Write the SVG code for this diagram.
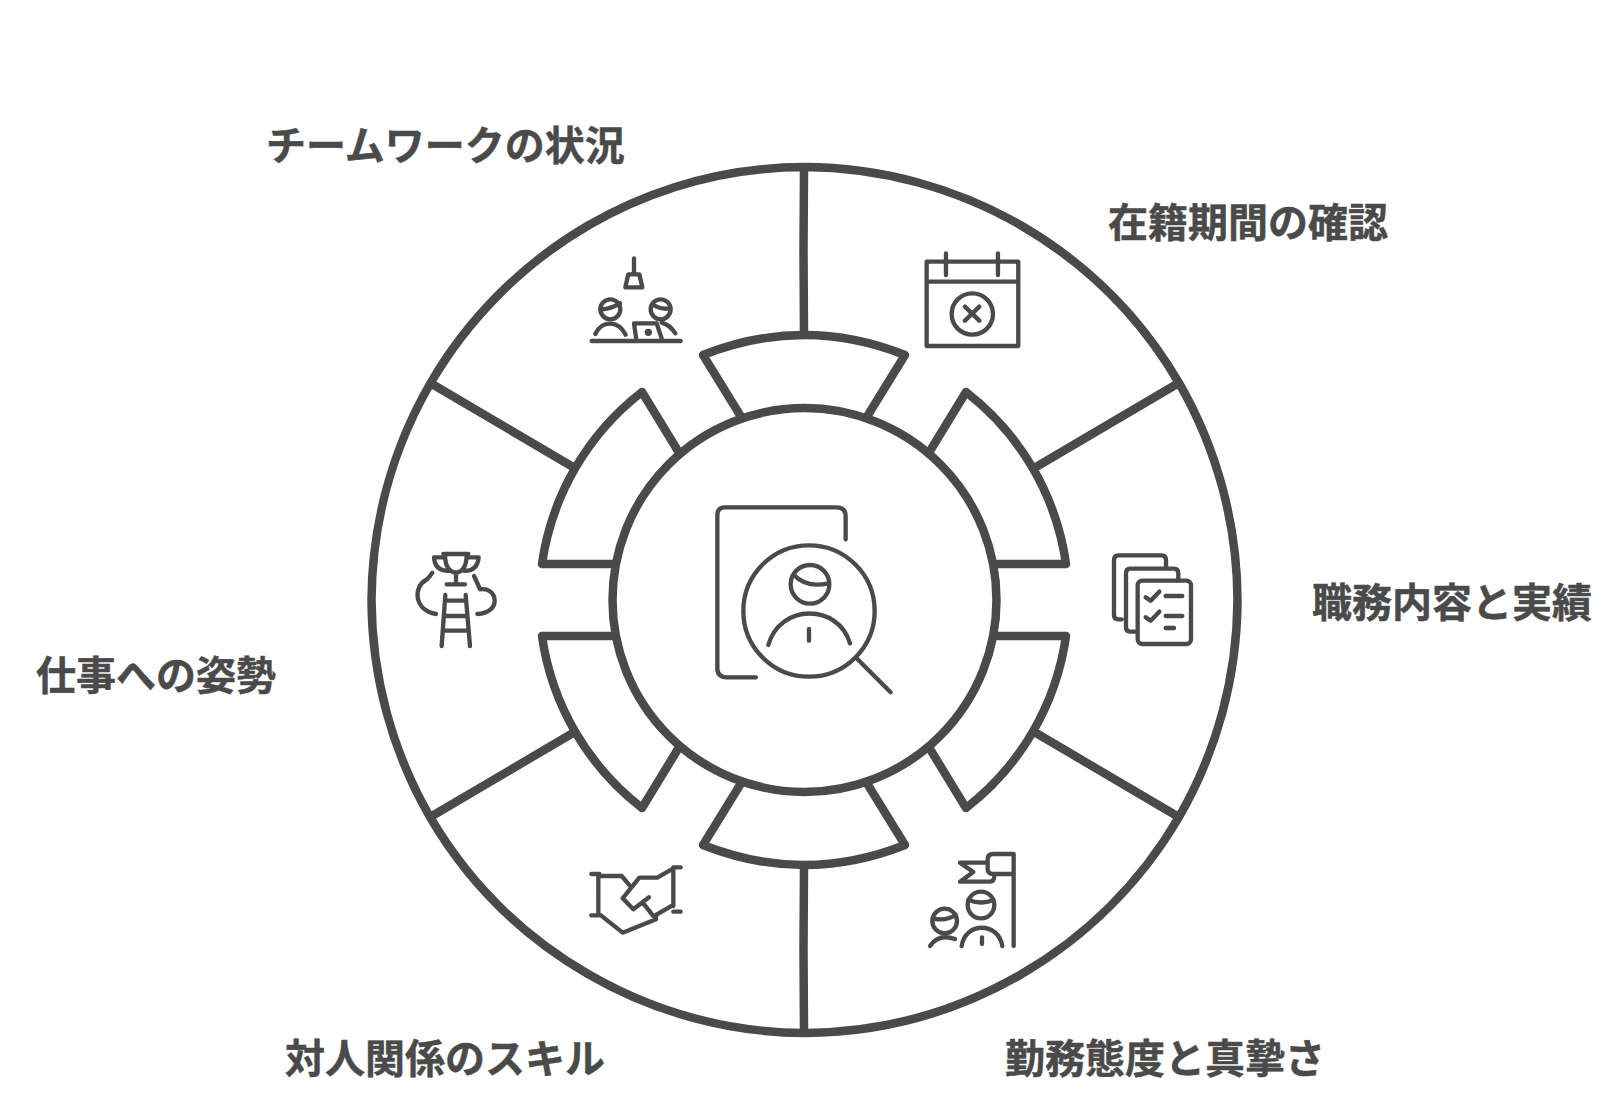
<svg xmlns="http://www.w3.org/2000/svg" width="1620" height="1104" viewBox="0 0 1620 1104">
<style>
.s{fill:none;stroke:#4a4a4a;stroke-width:8.5;stroke-linecap:round;stroke-linejoin:round}
.i{fill:none;stroke:#4a4a4a;stroke-width:13;stroke-linecap:round;stroke-linejoin:round}
.l{font-family:"Noto Sans CJK JP","Noto Sans",sans-serif;font-weight:700;font-size:40px;fill:#4a4a4a;stroke:#4a4a4a;stroke-width:.5}
</style>
<rect width="1620" height="1104" fill="#fff"/>
<g id="connectors">
<path class="s" d="M804 170L803.500 250L804 335M1177 384L1036 467M1036 733L1177 816M804 865L803.500 950L804 1031M573 733L432 816M432 384L573 467"/>
</g>
<g id="outer-ring"><path class="s" d="M804.500 167A438 438 0 0 1 1022 226A438 438 0 0 1 1179 383A438 438 0 0 1 1237.500 600A438 438 0 0 1 1179 817A438 438 0 0 1 1020 975A438 438 0 0 1 804.500 1033A438 438 0 0 1 588 974A438 438 0 0 1 430 817A438 438 0 0 1 371.500 600A438 438 0 0 1 430 384A438 438 0 0 1 589 225A438 438 0 0 1 804.500 167Z"/></g>
<g id="segment-top"><path class="s" d="M740 415L703 355Q804 315 905 355L868 415"/></g>
<g id="segment-upper-right"><path class="s" d="M930 451L966 392A264 264 0 0 1 1066 564H994"/></g>
<g id="segment-lower-right"><path class="s" d="M930 749L966 808A264 264 0 0 0 1066 636H994"/></g>
<g id="segment-bottom"><path class="s" d="M740 785L703 845Q804 885 905 845L868 785"/></g>
<g id="segment-lower-left"><path class="s" d="M678 749L642 808A264 264 0 0 1 542 636H614"/></g>
<g id="segment-upper-left"><path class="s" d="M678 451L642 392A264 264 0 0 0 542 564H614"/></g>
<g id="center"><circle class="s" cx="804.500" cy="600" r="192"/>
<g transform="translate(680 480) scale(.3333)"><path class="i" d="M497 178V110Q497 82 470 82H135Q112 82 112 105V565Q112 592 140 592H228"/><circle class="i" cx="387" cy="393" r="197"/><circle class="i" cx="390" cy="313" r="58"/><path class="i" d="M342 285Q380 325 445 310M265 495C300 370 475 370 510 490M387 447V482M530 535L632 637"/></g></g>
<g id="node-team"><g transform="translate(560 230) scale(.3333)"><path class="i" d="M222 85V130M205 133H238L247 172H196Z"/><circle class="i" cx="151" cy="238" r="30"/><circle class="i" cx="302" cy="238" r="30"/><path class="i" d="M128 238Q155 235 180 220M280 225Q305 240 330 235M106 312C125 270 175 270 197 314M305 278Q330 285 346 310M228 322L222 280H290L305 325M95 333H362"/><circle cx="265" cy="307" r="11" fill="#4a4a4a"/></g>
<text class="l" x="266" y="160">チームワークの状況</text></g>
<g id="node-calendar"><g transform="translate(560 230) scale(.3333)"><path class="i" d="M1100 95H1375L1375 348H1100ZM1100 155H1375M1158 70V135M1314 70V135M1215 230L1258 272M1258 230L1215 272"/><circle class="i" cx="1237" cy="252" r="62"/></g>
<text class="l" x="1108" y="237">在籍期間の確認</text></g>
<g id="node-docs"><g transform="translate(1100 540) scale(.3333)"><path class="i" d="M65 238H55Q42 238 42 225V60Q42 46 55 46H185Q198 46 198 60V85M105 275H90Q78 275 78 262V100Q78 86 90 86H222Q235 86 235 100V122"/><rect class="i" x="113" y="122" width="160" height="190" rx="14"/><path class="i" d="M137 172L152 182L178 155M137 232L152 242L178 215M197 168H247M197 228H247M197 264H222"/></g>
<text class="l" x="1312" y="617">職務内容と実績</text></g>
<g id="node-flag"><g transform="translate(915 840) scale(.3333)"><path class="i" d="M296 318V42H235Q218 42 218 58V88Q218 102 235 102H296M218 68H135L175 96L135 125H225Q238 125 238 105"/><circle class="i" cx="198" cy="195" r="40"/><path class="i" d="M160 180Q200 195 235 180M140 318C150 245 250 245 262 318M201 292V312"/><circle class="i" cx="89" cy="243" r="37"/><path class="i" d="M55 235Q90 245 122 225M45 318Q70 280 120 297"/></g>
<text class="l" x="1005" y="1073">勤務態度と真摯さ</text></g>
<g id="node-handshake"><g transform="translate(570 850) scale(.3333)"><path class="i" d="M64 72H88M64 196H88M85 72V190M85 78H155L182 110M310 52H332M310 185H332M310 55V168M310 55L262 83H208L158 145L190 178L237 142M220 160L258 208M305 168L258 195L258 208L158 248L85 190"/></g>
<text class="l" x="285" y="1073">対人関係のスキル</text></g>
<g id="node-trophy"><g transform="translate(400 530) scale(.3333)"><path class="i" d="M130 72H205M135 72Q135 125 168 128Q200 125 200 72M135 82H102Q105 125 150 122M200 82H236Q232 125 190 122M168 128V160M140 163H195M97 128Q85 145 78 150C40 170 40 240 108 252M222 138Q235 165 240 178C295 170 305 250 232 252M136 195L125 348M197 195L210 348M138 212H195M134 258H198M130 302H205"/></g>
<text class="l" x="36" y="690">仕事への姿勢</text></g>
</svg>
